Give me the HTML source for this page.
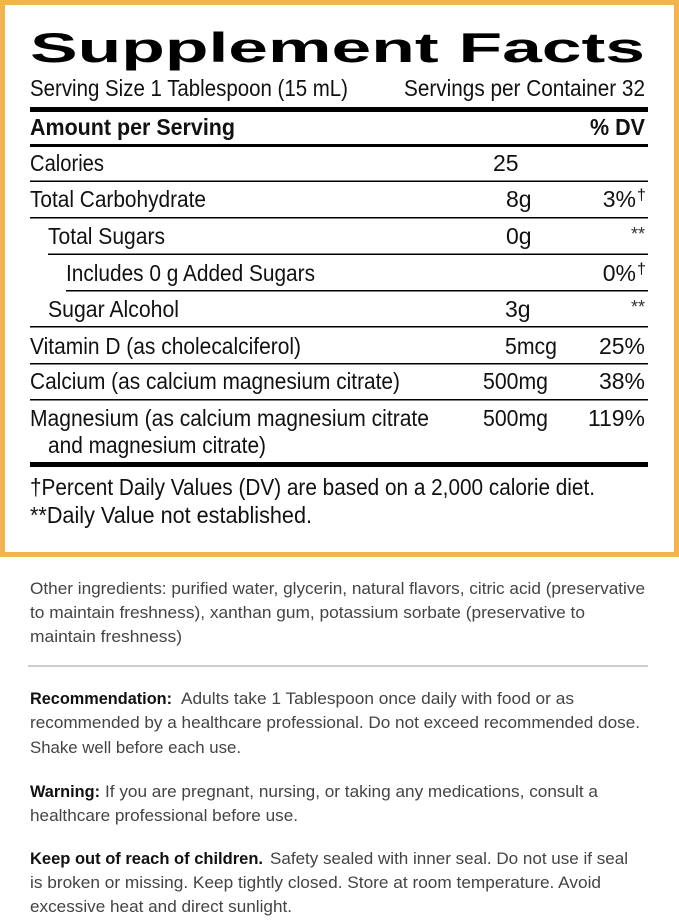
<!DOCTYPE html>
<html><head><meta charset="utf-8"><style>
html,body{margin:0;padding:0;background:#fff;}
svg{display:block;}
text{font-family:"Liberation Sans Narrow","Liberation Sans",sans-serif;}
.m{font-size:23px;fill:#111;}
.b{font-weight:bold;}
.s{font-size:17px;fill:#444;}
.sb{font-size:17px;fill:#111;font-weight:bold;}
</style></head><body>
<svg width="679" height="921" viewBox="0 0 679 921" xmlns="http://www.w3.org/2000/svg">
<rect x="2.5" y="2.5" width="674" height="552" fill="#fff" stroke="#f0b54f" stroke-width="5"/>
<text x="30" y="62" font-size="42" font-weight="bold" font-family="'Liberation Sans',sans-serif" textLength="615" lengthAdjust="spacingAndGlyphs" fill="#000">Supplement Facts</text>
<text class="m" x="30" y="96" textLength="318" lengthAdjust="spacingAndGlyphs">Serving Size 1 Tablespoon (15 mL)</text>
<text class="m" x="404" y="96" textLength="241" lengthAdjust="spacingAndGlyphs">Servings per Container 32</text>
<rect x="30" y="107" width="618" height="5" fill="#000"/>
<text class="m b" x="30" y="135" textLength="205" lengthAdjust="spacingAndGlyphs">Amount per Serving</text>
<text class="m b" x="590" y="135" textLength="55" lengthAdjust="spacingAndGlyphs">% DV</text>
<rect x="30" y="144" width="618" height="3" fill="#000"/>
<text class="m" x="30" y="171" textLength="74" lengthAdjust="spacingAndGlyphs">Calories</text>
<text class="m" x="493" y="171">25</text>
<rect x="30" y="180.5" width="618" height="1.5" fill="#000"/>
<text class="m" x="30" y="207" textLength="176" lengthAdjust="spacingAndGlyphs">Total Carbohydrate</text>
<text class="m" x="506" y="207">8g</text>
<text class="m" x="636" y="207" text-anchor="end">3%</text><text x="637" y="200" font-size="16" fill="#111">†</text>
<rect x="30" y="217" width="618" height="1.5" fill="#000"/>
<text class="m" x="48" y="244" textLength="117" lengthAdjust="spacingAndGlyphs">Total Sugars</text>
<text class="m" x="506" y="244">0g</text>
<text x="645" y="240" font-size="18" fill="#333" text-anchor="end">**</text>
<rect x="48" y="253.5" width="600" height="1.5" fill="#000"/>
<text class="m" x="66" y="281" textLength="249" lengthAdjust="spacingAndGlyphs">Includes 0 g Added Sugars</text>
<text class="m" x="636" y="281" text-anchor="end">0%</text><text x="637" y="274" font-size="16" fill="#111">†</text>
<rect x="66" y="290" width="582" height="1.5" fill="#000"/>
<text class="m" x="48" y="317" textLength="131" lengthAdjust="spacingAndGlyphs">Sugar Alcohol</text>
<text class="m" x="505" y="317">3g</text>
<text x="645" y="313" font-size="18" fill="#333" text-anchor="end">**</text>
<rect x="30" y="326" width="618" height="1.5" fill="#000"/>
<text class="m" x="30" y="354" textLength="271" lengthAdjust="spacingAndGlyphs">Vitamin D (as cholecalciferol)</text>
<text class="m" x="505" y="354" textLength="52" lengthAdjust="spacingAndGlyphs">5mcg</text>
<text class="m" x="645" y="354" text-anchor="end">25%</text>
<rect x="30" y="363" width="618" height="1.5" fill="#000"/>
<text class="m" x="30" y="389" textLength="370" lengthAdjust="spacingAndGlyphs">Calcium (as calcium magnesium citrate)</text>
<text class="m" x="483" y="389" textLength="65" lengthAdjust="spacingAndGlyphs">500mg</text>
<text class="m" x="645" y="389" text-anchor="end">38%</text>
<rect x="30" y="399" width="618" height="1.5" fill="#000"/>
<text class="m" x="30" y="426" textLength="399" lengthAdjust="spacingAndGlyphs">Magnesium (as calcium magnesium citrate</text>
<text class="m" x="483" y="426" textLength="65" lengthAdjust="spacingAndGlyphs">500mg</text>
<text class="m" x="645" y="426" text-anchor="end">119%</text>
<text class="m" x="48" y="453" textLength="218" lengthAdjust="spacingAndGlyphs">and magnesium citrate)</text>
<rect x="30" y="462" width="618" height="5" fill="#000"/>
<text class="m" x="30" y="495" textLength="565" lengthAdjust="spacingAndGlyphs">†Percent Daily Values (DV) are based on a 2,000 calorie diet.</text>
<text class="m" x="30" y="523" textLength="282" lengthAdjust="spacingAndGlyphs">**Daily Value not established.</text>

<text class="s" x="30" y="594" textLength="615" lengthAdjust="spacingAndGlyphs">Other ingredients: purified water, glycerin, natural flavors, citric acid (preservative</text>
<text class="s" x="30" y="618" textLength="555" lengthAdjust="spacingAndGlyphs">to maintain freshness), xanthan gum, potassium sorbate (preservative to</text>
<text class="s" x="30" y="642" textLength="152" lengthAdjust="spacingAndGlyphs">maintain freshness)</text>
<rect x="28" y="665.5" width="620" height="1" fill="#999"/>
<text class="sb" x="30" y="704" textLength="142" lengthAdjust="spacingAndGlyphs">Recommendation:</text>
<text class="s" x="181" y="704" textLength="393" lengthAdjust="spacingAndGlyphs">Adults take 1 Tablespoon once daily with food or as</text>
<text class="s" x="30" y="728" textLength="610" lengthAdjust="spacingAndGlyphs">recommended by a healthcare professional. Do not exceed recommended dose.</text>
<text class="s" x="30" y="753" textLength="211" lengthAdjust="spacingAndGlyphs">Shake well before each use.</text>
<text class="sb" x="30" y="797" textLength="70" lengthAdjust="spacingAndGlyphs">Warning:</text>
<text class="s" x="105" y="797" textLength="493" lengthAdjust="spacingAndGlyphs">If you are pregnant, nursing, or taking any medications, consult a</text>
<text class="s" x="30" y="821" textLength="268" lengthAdjust="spacingAndGlyphs">healthcare professional before use.</text>
<text class="sb" x="30" y="864" textLength="233" lengthAdjust="spacingAndGlyphs">Keep out of reach of children.</text>
<text class="s" x="270" y="864" textLength="358" lengthAdjust="spacingAndGlyphs">Safety sealed with inner seal. Do not use if seal</text>
<text class="s" x="30" y="888" textLength="571" lengthAdjust="spacingAndGlyphs">is broken or missing. Keep tightly closed. Store at room temperature. Avoid</text>
<text class="s" x="30" y="912" textLength="262" lengthAdjust="spacingAndGlyphs">excessive heat and direct sunlight.</text>
</svg>
</body></html>
